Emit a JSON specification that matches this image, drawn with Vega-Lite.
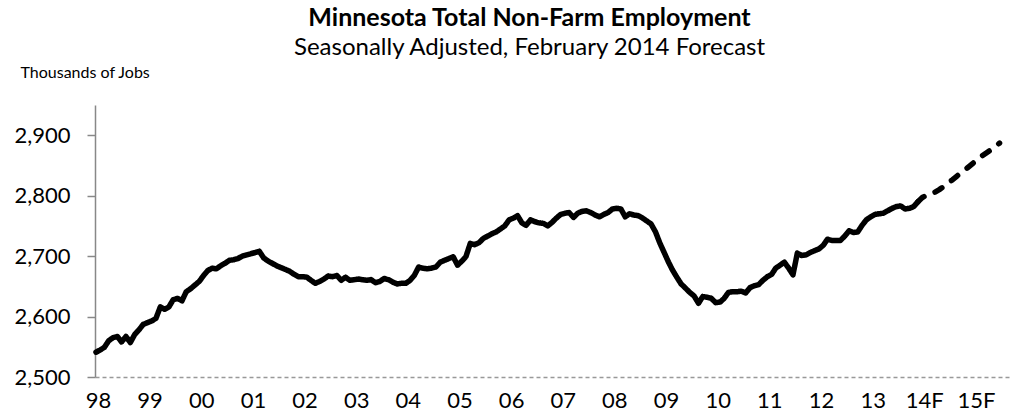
{
  "$schema": "https://vega.github.io/schema/vega-lite/v6.json",
  "width": 915,
  "height": 272,
  "autosize": {"type": "none"},
  "padding": {"left": 95, "top": 105, "right": 0, "bottom": 38},
  "background": "white",
  "config": {"view": {"stroke": null}, "font": "Lato"},
  "title": {
    "text": "Minnesota Total Non-Farm Employment",
    "subtitle": "Seasonally Adjusted, February 2014 Forecast",
    "font": "Lato", "fontSize": 25, "fontWeight": "bold", "color": "#000",
    "subtitleFont": "Lato", "subtitleFontSize": 24, "subtitleColor": "#000",
    "subtitlePadding": 5, "anchor": "middle", "dx": -23, "offset": 4
  },
  "data": {"values": [
    {"date":"1998-01","jobs":2541,"series":"Actual"},{"date":"1998-02","jobs":2545,"series":"Actual"},{"date":"1998-03","jobs":2549,"series":"Actual"},{"date":"1998-04","jobs":2560,"series":"Actual"},{"date":"1998-05","jobs":2565,"series":"Actual"},{"date":"1998-06","jobs":2567,"series":"Actual"},{"date":"1998-07","jobs":2558,"series":"Actual"},{"date":"1998-08","jobs":2567,"series":"Actual"},{"date":"1998-09","jobs":2557,"series":"Actual"},{"date":"1998-10","jobs":2570,"series":"Actual"},{"date":"1998-11","jobs":2578,"series":"Actual"},{"date":"1998-12","jobs":2587,"series":"Actual"},
    {"date":"1999-01","jobs":2590,"series":"Actual"},{"date":"1999-02","jobs":2593,"series":"Actual"},{"date":"1999-03","jobs":2597,"series":"Actual"},{"date":"1999-04","jobs":2616,"series":"Actual"},{"date":"1999-05","jobs":2612,"series":"Actual"},{"date":"1999-06","jobs":2616,"series":"Actual"},{"date":"1999-07","jobs":2628,"series":"Actual"},{"date":"1999-08","jobs":2630,"series":"Actual"},{"date":"1999-09","jobs":2626,"series":"Actual"},{"date":"1999-10","jobs":2641,"series":"Actual"},{"date":"1999-11","jobs":2646,"series":"Actual"},{"date":"1999-12","jobs":2652,"series":"Actual"},
    {"date":"2000-01","jobs":2658,"series":"Actual"},{"date":"2000-02","jobs":2668,"series":"Actual"},{"date":"2000-03","jobs":2676,"series":"Actual"},{"date":"2000-04","jobs":2680,"series":"Actual"},{"date":"2000-05","jobs":2679,"series":"Actual"},{"date":"2000-06","jobs":2684,"series":"Actual"},{"date":"2000-07","jobs":2688,"series":"Actual"},{"date":"2000-08","jobs":2693,"series":"Actual"},{"date":"2000-09","jobs":2694,"series":"Actual"},{"date":"2000-10","jobs":2696,"series":"Actual"},{"date":"2000-11","jobs":2700,"series":"Actual"},{"date":"2000-12","jobs":2702,"series":"Actual"},
    {"date":"2001-01","jobs":2704,"series":"Actual"},{"date":"2001-02","jobs":2706,"series":"Actual"},{"date":"2001-03","jobs":2708,"series":"Actual"},{"date":"2001-04","jobs":2697,"series":"Actual"},{"date":"2001-05","jobs":2692,"series":"Actual"},{"date":"2001-06","jobs":2688,"series":"Actual"},{"date":"2001-07","jobs":2684,"series":"Actual"},{"date":"2001-08","jobs":2681,"series":"Actual"},{"date":"2001-09","jobs":2678,"series":"Actual"},{"date":"2001-10","jobs":2675,"series":"Actual"},{"date":"2001-11","jobs":2670,"series":"Actual"},{"date":"2001-12","jobs":2666,"series":"Actual"},
    {"date":"2002-01","jobs":2666,"series":"Actual"},{"date":"2002-02","jobs":2665,"series":"Actual"},{"date":"2002-03","jobs":2660,"series":"Actual"},{"date":"2002-04","jobs":2655,"series":"Actual"},{"date":"2002-05","jobs":2658,"series":"Actual"},{"date":"2002-06","jobs":2662,"series":"Actual"},{"date":"2002-07","jobs":2667,"series":"Actual"},{"date":"2002-08","jobs":2666,"series":"Actual"},{"date":"2002-09","jobs":2668,"series":"Actual"},{"date":"2002-10","jobs":2660,"series":"Actual"},{"date":"2002-11","jobs":2665,"series":"Actual"},{"date":"2002-12","jobs":2660,"series":"Actual"},
    {"date":"2003-01","jobs":2661,"series":"Actual"},{"date":"2003-02","jobs":2662,"series":"Actual"},{"date":"2003-03","jobs":2661,"series":"Actual"},{"date":"2003-04","jobs":2660,"series":"Actual"},{"date":"2003-05","jobs":2661,"series":"Actual"},{"date":"2003-06","jobs":2656,"series":"Actual"},{"date":"2003-07","jobs":2658,"series":"Actual"},{"date":"2003-08","jobs":2663,"series":"Actual"},{"date":"2003-09","jobs":2661,"series":"Actual"},{"date":"2003-10","jobs":2657,"series":"Actual"},{"date":"2003-11","jobs":2654,"series":"Actual"},{"date":"2003-12","jobs":2655,"series":"Actual"},
    {"date":"2004-01","jobs":2655,"series":"Actual"},{"date":"2004-02","jobs":2660,"series":"Actual"},{"date":"2004-03","jobs":2668,"series":"Actual"},{"date":"2004-04","jobs":2682,"series":"Actual"},{"date":"2004-05","jobs":2680,"series":"Actual"},{"date":"2004-06","jobs":2679,"series":"Actual"},{"date":"2004-07","jobs":2680,"series":"Actual"},{"date":"2004-08","jobs":2682,"series":"Actual"},{"date":"2004-09","jobs":2690,"series":"Actual"},{"date":"2004-10","jobs":2693,"series":"Actual"},{"date":"2004-11","jobs":2696,"series":"Actual"},{"date":"2004-12","jobs":2699,"series":"Actual"},
    {"date":"2005-01","jobs":2685,"series":"Actual"},{"date":"2005-02","jobs":2692,"series":"Actual"},{"date":"2005-03","jobs":2699,"series":"Actual"},{"date":"2005-04","jobs":2721,"series":"Actual"},{"date":"2005-05","jobs":2719,"series":"Actual"},{"date":"2005-06","jobs":2722,"series":"Actual"},{"date":"2005-07","jobs":2729,"series":"Actual"},{"date":"2005-08","jobs":2733,"series":"Actual"},{"date":"2005-09","jobs":2737,"series":"Actual"},{"date":"2005-10","jobs":2740,"series":"Actual"},{"date":"2005-11","jobs":2745,"series":"Actual"},{"date":"2005-12","jobs":2750,"series":"Actual"},
    {"date":"2006-01","jobs":2760,"series":"Actual"},{"date":"2006-02","jobs":2763,"series":"Actual"},{"date":"2006-03","jobs":2767,"series":"Actual"},{"date":"2006-04","jobs":2755,"series":"Actual"},{"date":"2006-05","jobs":2751,"series":"Actual"},{"date":"2006-06","jobs":2760,"series":"Actual"},{"date":"2006-07","jobs":2757,"series":"Actual"},{"date":"2006-08","jobs":2755,"series":"Actual"},{"date":"2006-09","jobs":2754,"series":"Actual"},{"date":"2006-10","jobs":2750,"series":"Actual"},{"date":"2006-11","jobs":2756,"series":"Actual"},{"date":"2006-12","jobs":2763,"series":"Actual"},
    {"date":"2007-01","jobs":2769,"series":"Actual"},{"date":"2007-02","jobs":2771,"series":"Actual"},{"date":"2007-03","jobs":2772,"series":"Actual"},{"date":"2007-04","jobs":2764,"series":"Actual"},{"date":"2007-05","jobs":2771,"series":"Actual"},{"date":"2007-06","jobs":2774,"series":"Actual"},{"date":"2007-07","jobs":2775,"series":"Actual"},{"date":"2007-08","jobs":2772,"series":"Actual"},{"date":"2007-09","jobs":2768,"series":"Actual"},{"date":"2007-10","jobs":2765,"series":"Actual"},{"date":"2007-11","jobs":2769,"series":"Actual"},{"date":"2007-12","jobs":2772,"series":"Actual"},
    {"date":"2008-01","jobs":2778,"series":"Actual"},{"date":"2008-02","jobs":2779,"series":"Actual"},{"date":"2008-03","jobs":2778,"series":"Actual"},{"date":"2008-04","jobs":2765,"series":"Actual"},{"date":"2008-05","jobs":2770,"series":"Actual"},{"date":"2008-06","jobs":2768,"series":"Actual"},{"date":"2008-07","jobs":2767,"series":"Actual"},{"date":"2008-08","jobs":2763,"series":"Actual"},{"date":"2008-09","jobs":2758,"series":"Actual"},{"date":"2008-10","jobs":2753,"series":"Actual"},{"date":"2008-11","jobs":2740,"series":"Actual"},{"date":"2008-12","jobs":2722,"series":"Actual"},
    {"date":"2009-01","jobs":2706,"series":"Actual"},{"date":"2009-02","jobs":2690,"series":"Actual"},{"date":"2009-03","jobs":2677,"series":"Actual"},{"date":"2009-04","jobs":2665,"series":"Actual"},{"date":"2009-05","jobs":2654,"series":"Actual"},{"date":"2009-06","jobs":2647,"series":"Actual"},{"date":"2009-07","jobs":2640,"series":"Actual"},{"date":"2009-08","jobs":2634,"series":"Actual"},{"date":"2009-09","jobs":2622,"series":"Actual"},{"date":"2009-10","jobs":2633,"series":"Actual"},{"date":"2009-11","jobs":2632,"series":"Actual"},{"date":"2009-12","jobs":2630,"series":"Actual"},
    {"date":"2010-01","jobs":2623,"series":"Actual"},{"date":"2010-02","jobs":2624,"series":"Actual"},{"date":"2010-03","jobs":2630,"series":"Actual"},{"date":"2010-04","jobs":2640,"series":"Actual"},{"date":"2010-05","jobs":2641,"series":"Actual"},{"date":"2010-06","jobs":2641,"series":"Actual"},{"date":"2010-07","jobs":2642,"series":"Actual"},{"date":"2010-08","jobs":2639,"series":"Actual"},{"date":"2010-09","jobs":2648,"series":"Actual"},{"date":"2010-10","jobs":2651,"series":"Actual"},{"date":"2010-11","jobs":2653,"series":"Actual"},{"date":"2010-12","jobs":2660,"series":"Actual"},
    {"date":"2011-01","jobs":2666,"series":"Actual"},{"date":"2011-02","jobs":2670,"series":"Actual"},{"date":"2011-03","jobs":2680,"series":"Actual"},{"date":"2011-04","jobs":2685,"series":"Actual"},{"date":"2011-05","jobs":2690,"series":"Actual"},{"date":"2011-06","jobs":2680,"series":"Actual"},{"date":"2011-07","jobs":2669,"series":"Actual"},{"date":"2011-08","jobs":2705,"series":"Actual"},{"date":"2011-09","jobs":2701,"series":"Actual"},{"date":"2011-10","jobs":2702,"series":"Actual"},{"date":"2011-11","jobs":2706,"series":"Actual"},{"date":"2011-12","jobs":2709,"series":"Actual"},
    {"date":"2012-01","jobs":2712,"series":"Actual"},{"date":"2012-02","jobs":2718,"series":"Actual"},{"date":"2012-03","jobs":2728,"series":"Actual"},{"date":"2012-04","jobs":2726,"series":"Actual"},{"date":"2012-05","jobs":2726,"series":"Actual"},{"date":"2012-06","jobs":2726,"series":"Actual"},{"date":"2012-07","jobs":2733,"series":"Actual"},{"date":"2012-08","jobs":2742,"series":"Actual"},{"date":"2012-09","jobs":2739,"series":"Actual"},{"date":"2012-10","jobs":2740,"series":"Actual"},{"date":"2012-11","jobs":2751,"series":"Actual"},{"date":"2012-12","jobs":2760,"series":"Actual"},
    {"date":"2013-01","jobs":2765,"series":"Actual"},{"date":"2013-02","jobs":2769,"series":"Actual"},{"date":"2013-03","jobs":2770,"series":"Actual"},{"date":"2013-04","jobs":2771,"series":"Actual"},{"date":"2013-05","jobs":2775,"series":"Actual"},{"date":"2013-06","jobs":2779,"series":"Actual"},{"date":"2013-07","jobs":2782,"series":"Actual"},{"date":"2013-08","jobs":2783,"series":"Actual"},{"date":"2013-09","jobs":2778,"series":"Actual"},{"date":"2013-10","jobs":2779,"series":"Actual"},{"date":"2013-11","jobs":2782,"series":"Actual"},{"date":"2013-12","jobs":2790,"series":"Actual"},
    {"date":"2013-12","jobs":2790,"series":"Forecast"},{"date":"2014-01","jobs":2797,"series":"Forecast"},{"date":"2014-02","jobs":2801,"series":"Forecast"},{"date":"2014-03","jobs":2803,"series":"Forecast"},{"date":"2014-04","jobs":2806,"series":"Forecast"},{"date":"2014-05","jobs":2810,"series":"Forecast"},{"date":"2014-06","jobs":2815,"series":"Forecast"},{"date":"2014-07","jobs":2821,"series":"Forecast"},{"date":"2014-08","jobs":2826,"series":"Forecast"},{"date":"2014-09","jobs":2832,"series":"Forecast"},{"date":"2014-10","jobs":2838,"series":"Forecast"},{"date":"2014-11","jobs":2843,"series":"Forecast"},{"date":"2014-12","jobs":2849,"series":"Forecast"},
    {"date":"2015-01","jobs":2855,"series":"Forecast"},{"date":"2015-02","jobs":2861,"series":"Forecast"},{"date":"2015-03","jobs":2866,"series":"Forecast"},{"date":"2015-04","jobs":2871,"series":"Forecast"},{"date":"2015-05","jobs":2876,"series":"Forecast"},{"date":"2015-06","jobs":2881,"series":"Forecast"},{"date":"2015-07","jobs":2887,"series":"Forecast"}
  ]},
  "mark": {"type": "line", "color": "#000", "strokeWidth": 5.5, "strokeJoin": "round", "strokeCap": "round", "clip": false},
  "encoding": {
    "x": {
      "field": "date", "type": "temporal",
      "scale": {"type": "utc", "domain": [{"year": 1997, "month": 12, "date": 25, "utc": true}, {"year": 2015, "month": 9, "date": 13, "utc": true}]},
      "axis": {
        "title": null, "grid": false, "ticks": false,
        "values": [
          {"year":1998,"month":1,"date":15,"utc":true},{"year":1999,"month":1,"date":15,"utc":true},{"year":2000,"month":1,"date":15,"utc":true},{"year":2001,"month":1,"date":15,"utc":true},{"year":2002,"month":1,"date":15,"utc":true},{"year":2003,"month":1,"date":15,"utc":true},{"year":2004,"month":1,"date":15,"utc":true},{"year":2005,"month":1,"date":15,"utc":true},{"year":2006,"month":1,"date":15,"utc":true},{"year":2007,"month":1,"date":15,"utc":true},{"year":2008,"month":1,"date":15,"utc":true},{"year":2009,"month":1,"date":15,"utc":true},{"year":2010,"month":1,"date":15,"utc":true},{"year":2011,"month":1,"date":15,"utc":true},{"year":2012,"month":1,"date":15,"utc":true},{"year":2013,"month":1,"date":15,"utc":true},{"year":2014,"month":1,"date":15,"utc":true},{"year":2015,"month":1,"date":15,"utc":true}
        ],
        "labelExpr": "utcFormat(datum.value, '%y') + (utcyear(datum.value) >= 2014 ? 'F' : '')",
        "labelFont": "Lato", "labelFontSize": 22, "labelColor": "#000",
        "labelPadding": 13, "labelFlush": false, "labelOverlap": false,
        "domainColor": "#999999", "domainWidth": 1.5, "domainDash": [4, 3]
      }
    },
    "y": {
      "field": "jobs", "type": "quantitative",
      "scale": {"domain": [2500, 2950], "nice": false, "zero": false},
      "axis": {
        "title": "Thousands of Jobs", "titleAngle": 0, "titleAlign": "left", "titleBaseline": "alphabetic",
        "titleX": -75, "titleY": -28, "titleFont": "Lato", "titleFontSize": 16, "titleFontWeight": "normal", "titleColor": "#000",
        "values": [2500, 2600, 2700, 2800, 2900], "format": ",d",
        "grid": false, "tickSize": 8, "tickColor": "#888888", "tickWidth": 1.5,
        "domainColor": "#888888", "domainWidth": 1.5,
        "labelFont": "Lato", "labelFontSize": 22, "labelColor": "#000", "labelPadding": 17
      }
    },
    "strokeDash": {
      "field": "series", "type": "nominal",
      "scale": {"domain": ["Actual", "Forecast"], "range": [[1, 0], [8, 12]]},
      "legend": null
    }
  }
}
